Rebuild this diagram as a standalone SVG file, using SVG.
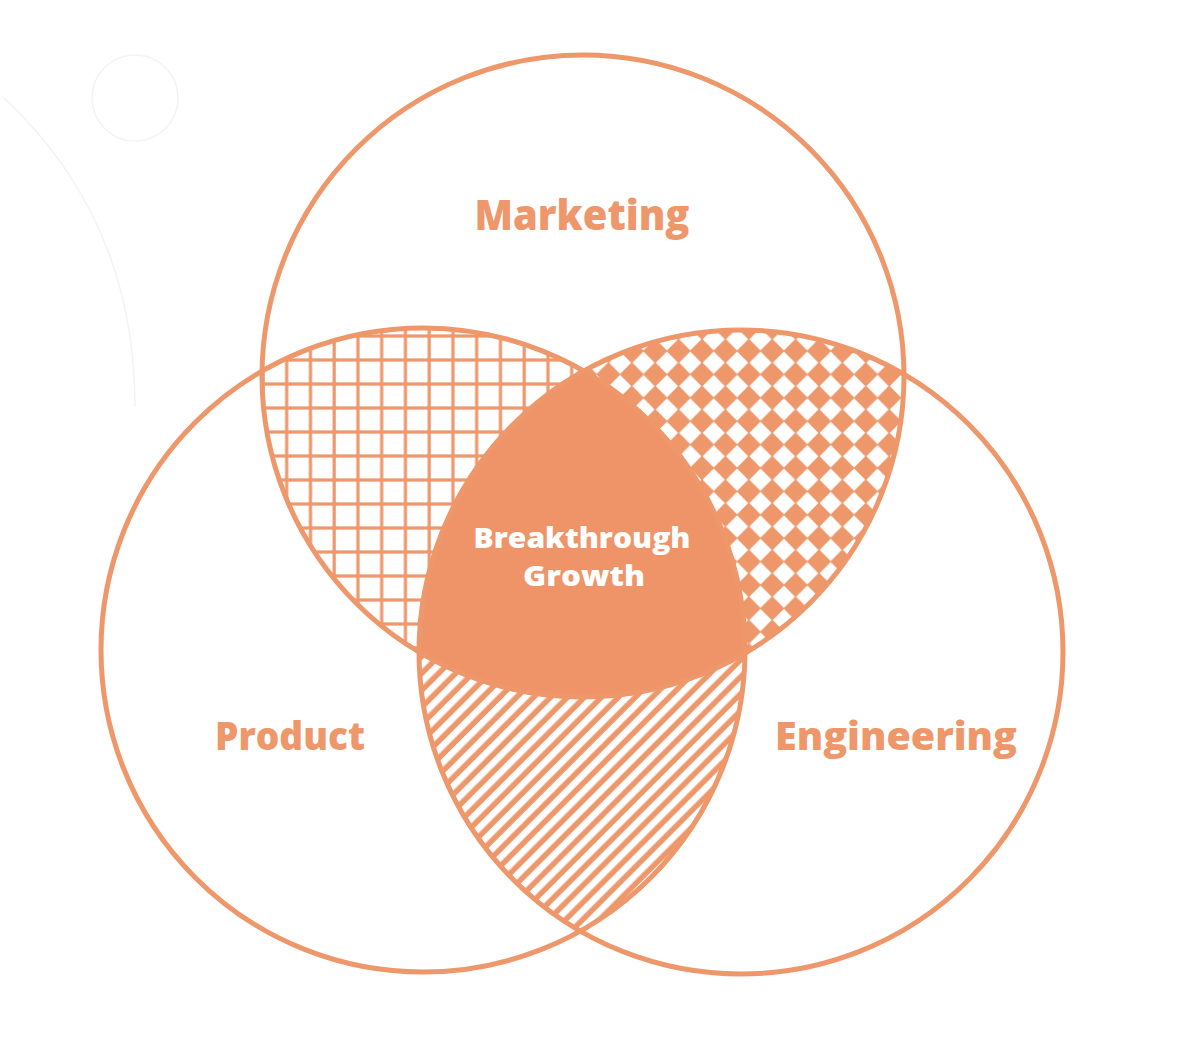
<svg xmlns="http://www.w3.org/2000/svg" width="1200" height="1044" viewBox="0 0 1200 1044">
<style>
.ring{fill:none;stroke:#EE976A;stroke-width:5}
.lbl{font-family:"Open Sans","Liberation Sans",sans-serif;font-weight:800;fill:#EE976A;text-anchor:middle;font-variant-ligatures:none}
.ctr{font-family:"Open Sans","Liberation Sans",sans-serif;font-weight:800;fill:#FFFFFF;text-anchor:middle;font-size:28px;font-variant-ligatures:none}
.ghost{fill:none;stroke:#F3F3F3;stroke-width:1.5}
</style>
<defs>
<clipPath id="cM"><circle cx="583" cy="376" r="321"/></clipPath>
<clipPath id="cP"><circle cx="423" cy="650" r="322"/></clipPath>
<clipPath id="cE"><circle cx="741" cy="652" r="322"/></clipPath>
<pattern id="grid" patternUnits="userSpaceOnUse" x="274.7" y="348" width="23.75" height="24">
<rect width="23.75" height="24" fill="#FFFFFF"/>
<rect x="10.4" y="0" width="3.2" height="24" fill="#EE976A"/>
<rect x="0" y="10.4" width="23.75" height="3.2" fill="#EE976A"/>
</pattern>
<pattern id="dia" patternUnits="userSpaceOnUse" x="0" y="0" width="23.4" height="23.4">
<rect width="23.4" height="23.4" fill="#EE976A"/>
<polygon points="11.7,0.6 22.8,11.7 11.7,22.8 0.6,11.7" fill="#FFFFFF"/>
</pattern>
<pattern id="stripe" patternUnits="userSpaceOnUse" width="12" height="12" patternTransform="rotate(-45)">
<rect width="12" height="12" fill="#FFFFFF"/>
<rect x="0" y="3.5" width="12" height="5.5" fill="#EE976A"/>
</pattern>
</defs>
<rect width="1200" height="1044" fill="#FFFFFF"/>
<g id="ghost">
<circle class="ghost" cx="135" cy="98" r="43"/>
<path class="ghost" d="M3,97 Q135,220 135,407"/>
</g>
<g id="region-marketing-product" clip-path="url(#cM)"><g clip-path="url(#cP)"><rect x="0" y="0" width="1200" height="1044" fill="url(#grid)"/></g></g>
<g id="region-marketing-engineering" clip-path="url(#cM)"><g clip-path="url(#cE)"><rect x="0" y="0" width="1200" height="1044" fill="url(#dia)"/></g></g>
<g id="region-product-engineering" clip-path="url(#cP)"><g clip-path="url(#cE)"><rect x="0" y="0" width="1200" height="1044" fill="url(#stripe)"/></g></g>
<g id="breakthrough-growth" clip-path="url(#cM)"><g clip-path="url(#cP)"><g clip-path="url(#cE)"><rect x="0" y="0" width="1200" height="1044" fill="#EE9468"/></g></g>
<text class="ctr" x="582" y="548" textLength="217" lengthAdjust="spacingAndGlyphs">Breakthrough</text>
<text class="ctr" x="584" y="586" textLength="122" lengthAdjust="spacingAndGlyphs">Growth</text>
</g>
<g id="marketing">
<circle class="ring" cx="583" cy="376" r="321"/>
<text class="lbl" x="582" y="230" font-size="42" textLength="215" lengthAdjust="spacingAndGlyphs">Marketing</text>
</g>
<g id="product">
<circle class="ring" cx="423" cy="650" r="322"/>
<text class="lbl" x="290" y="750" font-size="38" textLength="150" lengthAdjust="spacingAndGlyphs">Product</text>
</g>
<g id="engineering">
<circle class="ring" cx="741" cy="652" r="322"/>
<text class="lbl" x="896" y="750" font-size="38" textLength="242" lengthAdjust="spacingAndGlyphs">Engineering</text>
</g>
</svg>
